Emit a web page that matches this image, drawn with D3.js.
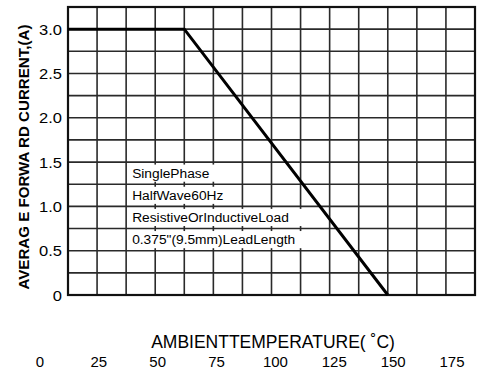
<!DOCTYPE html>
<html>
<head>
<meta charset="utf-8">
<script src="https://cdn.jsdelivr.net/npm/d3@7"></script>
<style>
  body { margin: 0; background: #fff; }
  text { font-family: "Liberation Sans", Arial, sans-serif; fill: #000; }
</style>
</head>
<body>
<svg id="chart"></svg>
<script>
// derating curve (x in grid units 0..175, y in amps)
const curveTemp = [0, 50, 137.5];
const curveAmps = [3.0, 3.0, 0];

const yTicks = [0, 0.5, 1.0, 1.5, 2.0, 2.5, 3.0];
const yTickLabels = ["0", "0.5", "1.0", "1.5", "2.0", "2.5", "3.0"];
const xTickLabels = [0, 25, 50, 75, 100, 125, 150, 175];

const notes = ["SinglePhase", "HalfWave60Hz", "ResistiveOrInductiveLoad", "0.375\"(9.5mm)LeadLength"];
const noteRows = [1.5, 1.25, 1.0, 0.75];    // top of each note row (amps)
const noteStart = 25;                       // left end of the note boxes (grid units)
const noteEnds = [62.5, 62.5, 100, 100];    // right end of each note box (grid units)

const width = 478;
const height = 373;

var svg = d3.select("#chart").attr("width", width).attr("height", height);

var x = d3.scaleLinear().domain([0, 175]).range([68, 475]);
var y = d3.scaleLinear().domain([0, 3.25]).range([295, 7]);
// the temperature labels under the chart do not sit on the grid
var xLab = d3.scaleLinear().domain([0, 175]).range([40, 452]);

// stretch a text horizontally (the original lettering is wide)
function widen(sel, k) {
  sel.each(function() {
    var w = this.getComputedTextLength();
    d3.select(this).attr("textLength", w * k).attr("lengthAdjust", "spacingAndGlyphs");
  });
}

// grid
var gx = d3.range(0, 175.01, 12.5);
var gy = d3.range(0, 3.26, 0.25);

svg.append("g").selectAll("line").data(gx).enter().append("line")
  .attr("x1", d => x(d)).attr("x2", d => x(d))
  .attr("y1", y(3.25)).attr("y2", y(0))
  .attr("stroke", "#2a2a2a").attr("stroke-width", 1.6);

svg.append("g").selectAll("line").data(gy).enter().append("line")
  .attr("x1", x(0)).attr("x2", x(175))
  .attr("y1", d => y(d)).attr("y2", d => y(d))
  .attr("stroke", "#2a2a2a").attr("stroke-width", 1.6);

// note boxes hide the vertical grid lines
var notesG = svg.append("g");
notes.forEach((t, i) => {
  notesG.append("rect")
    .attr("x", x(noteStart) + 1.5)
    .attr("y", y(noteRows[i]) + 2.5)
    .attr("width", x(noteEnds[i]) - x(noteStart) + 1)
    .attr("height", y(noteRows[i] - 0.25) - y(noteRows[i]) - 5)
    .attr("fill", "#fff");
  notesG.append("text")
    .attr("x", x(noteStart) + 6)
    .attr("y", y(noteRows[i] - 0.125) + 4.5)
    .attr("font-size", 12.5)
    .text(t)
    .call(widen, 1.1);
});

// frame
svg.append("rect")
  .attr("x", x(0)).attr("y", y(3.25))
  .attr("width", x(175) - x(0)).attr("height", y(0) - y(3.25))
  .attr("fill", "none").attr("stroke", "#111").attr("stroke-width", 2.2);

// curve
var line = d3.line().x((d, i) => x(curveTemp[i])).y(d => y(d));
svg.append("path")
  .attr("d", line(curveAmps))
  .attr("fill", "none").attr("stroke", "#000").attr("stroke-width", 3);

// y tick labels
svg.append("g").selectAll("text").data(yTicks).enter().append("text")
  .attr("x", 62).attr("y", d => y(d) + 5.5)
  .attr("text-anchor", "end").attr("font-size", 15)
  .text((d, i) => yTickLabels[i])
  .call(widen, 1.1);

// x tick labels
svg.append("g").selectAll("text").data(xTickLabels).enter().append("text")
  .attr("x", d => xLab(d)).attr("y", 367)
  .attr("text-anchor", "middle").attr("font-size", 15)
  .text(d => d);

// axis titles
svg.append("text")
  .attr("x", 273).attr("y", 348)
  .attr("text-anchor", "middle").attr("font-size", 17.5)
  .text("AMBIENTTEMPERATURE( \u02DAC)");

svg.append("text")
  .attr("transform", "translate(29,157) rotate(-90)")
  .attr("text-anchor", "middle").attr("font-size", 14.5).attr("font-weight", "bold")
  .attr("textLength", 265).attr("lengthAdjust", "spacingAndGlyphs")
  .text("AVERAG E FORWA RD CURRENT,(A)");
</script>
</body>
</html>
